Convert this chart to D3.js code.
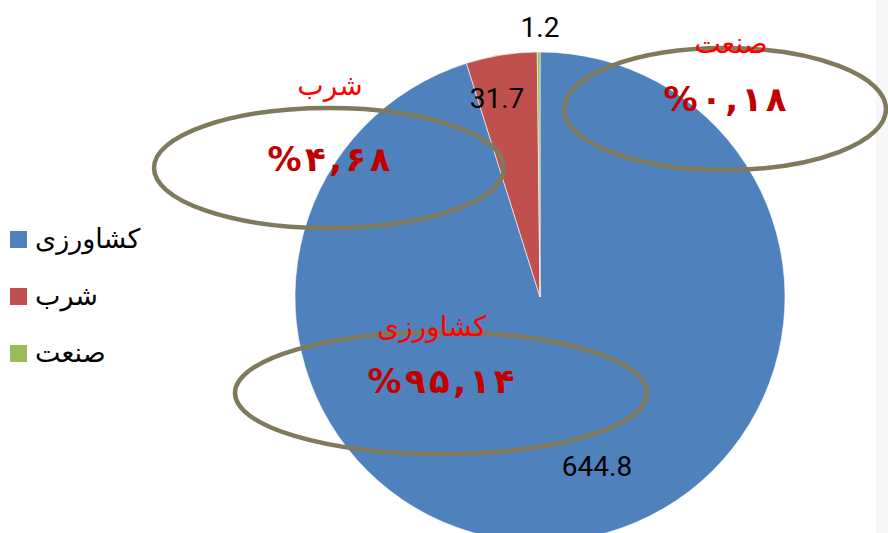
<!DOCTYPE html>
<html>
<head>
<meta charset="utf-8">
<script src="https://cdn.jsdelivr.net/npm/d3@7"></script>
<style>
  body { margin: 0; background: #fff; }
</style>
</head>
<body>
<svg id="canvas" width="888" height="533"></svg>
<script>
// data
let categories = ['کشاورزی', 'شرب', 'صنعت'];
let values = [644.8, 31.7, 1.2];
let valueLabels = ['644.8', '31.7', '1.2'];
let percentLabels = ['%۹۵,۱۴', '%۴,۶۸', '%۰,۱۸'];
let colors = ['#4F81BD', '#C0504D', '#9BBB59'];

let canvas = d3.select('#canvas');

// faint strip on the right edge
canvas.append('rect')
    .attr('x', 876).attr('y', 0).attr('width', 12).attr('height', 533)
    .attr('fill', '#f7f7f7');

let cx = 540, cy = 297, radius = 245;

let pie = d3.pie().sort(null).value(d => d);
let arc = d3.arc().innerRadius(0).outerRadius(radius);
let arcs = pie(values);

let g = canvas.append('g').attr('transform', `translate(${cx},${cy})`);

g.selectAll('path')
    .data(arcs)
    .enter()
    .append('path')
    .attr('d', arc)
    .attr('fill', (d, i) => colors[i])
    .attr('stroke', '#fff')
    .attr('stroke-width', 0.6);

// value labels, placed like the original
let valuePos = [
    [57, 179],   // 644.8
    [-43, -189], // 31.7
    [0, -260]    // 1.2
];
g.selectAll('text.val')
    .data(arcs)
    .enter()
    .append('text')
    .attr('class', 'val')
    .attr('x', (d, i) => valuePos[i][0])
    .attr('y', (d, i) => valuePos[i][1])
    .attr('text-anchor', 'middle')
    .attr('font-family', 'Roboto, sans-serif')
    .attr('font-size', 28)
    .attr('fill', '#000')
    .text((d, i) => valueLabels[i]);

// legend
let legend = canvas.append('g').attr('transform', 'translate(10,231)');
let rows = legend.selectAll('g')
    .data(categories)
    .enter()
    .append('g')
    .attr('transform', (d, i) => `translate(0,${i * 57})`);
rows.append('rect')
    .attr('width', 17).attr('height', 17)
    .attr('fill', (d, i) => colors[i]);
rows.append('text')
    .attr('x', 25).attr('y', 17)
    .attr('font-family', 'DejaVu Sans, sans-serif')
    .attr('font-size', 27)
    .attr('fill', '#000')
    .attr('direction', 'ltr')
    .text(d => d);

// annotation ellipses with red captions
let notes = [
    { cx: 441, cy: 393, rx: 206, ry: 61, ty: 336, py: 393 },
    { cx: 329, cy: 168, rx: 175, ry: 60, ty: 95, py: 171 },
    { cx: 725, cy: 109, rx: 161, ry: 61, ty: 53, py: 111 }
];
let labelX = [432, 330, 731];

let ann = canvas.append('g');
ann.selectAll('ellipse')
    .data(notes)
    .enter()
    .append('ellipse')
    .attr('cx', d => d.cx).attr('cy', d => d.cy)
    .attr('rx', d => d.rx).attr('ry', d => d.ry)
    .attr('fill', 'none')
    .attr('stroke', '#7F7A5C')
    .attr('stroke-width', 4.5);

ann.selectAll('text.cat')
    .data(notes)
    .enter()
    .append('text')
    .attr('class', 'cat')
    .attr('x', (d, i) => labelX[i])
    .attr('y', d => d.ty)
    .attr('text-anchor', 'middle')
    .attr('font-family', 'DejaVu Sans, sans-serif')
    .attr('font-size', 28)
    .attr('fill', '#FF0000')
    .text((d, i) => categories[i]);

// percentages, spread out a little like the original
ann.selectAll('text.pct')
    .data(notes)
    .enter()
    .append('text')
    .attr('class', 'pct')
    .attr('x', d => d.cx)
    .attr('y', d => d.py)
    .attr('text-anchor', 'middle')
    .attr('direction', 'ltr')
    .attr('font-family', 'DejaVu Sans, sans-serif')
    .attr('font-weight', 'bold')
    .attr('font-size', 34)
    .attr('fill', '#C00000')
    .text((d, i) => percentLabels[i].split('').join('\u200A'));
</script>
</body>
</html>
